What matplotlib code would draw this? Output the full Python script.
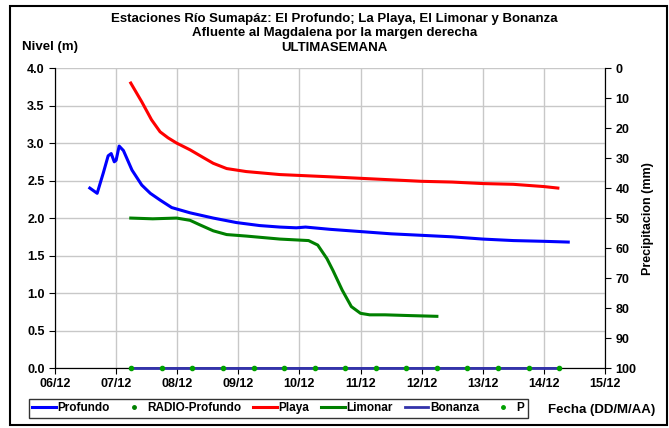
import matplotlib
matplotlib.use("Agg")
import matplotlib.pyplot as plt
from matplotlib.patches import Rectangle

plt.rcParams['font.family'] = ['Liberation Sans', 'DejaVu Sans']
plt.rcParams['font.weight'] = 'bold'

# days since 06/12
dias = ["06/12", "07/12", "08/12", "09/12", "10/12", "11/12", "12/12", "13/12", "14/12", "15/12"]

prof_x = [0.57, 0.69, 0.79, 0.87, 0.92, 0.97, 1.00, 1.05, 1.12, 1.26, 1.42, 1.56, 1.72, 1.91, 2.21, 2.59, 2.97,
          3.35, 3.68, 3.95, 4.10, 4.50, 5.00, 5.50, 6.00, 6.50, 7.00, 7.50, 8.00, 8.40]
prof_y = [2.40, 2.33, 2.60, 2.83, 2.86, 2.75, 2.77, 2.96, 2.90, 2.64, 2.44, 2.33, 2.24, 2.14, 2.07, 2.00, 1.94,
          1.90, 1.88, 1.87, 1.88, 1.85, 1.82, 1.79, 1.77, 1.75, 1.72, 1.70, 1.69, 1.68]

playa_x = [1.24, 1.42, 1.58, 1.72, 1.85, 1.99, 2.21, 2.42, 2.59, 2.81, 3.13, 3.68, 4.50, 5.00, 5.50, 6.00,
           6.50, 7.00, 7.50, 8.00, 8.23]
playa_y = [3.80, 3.55, 3.31, 3.15, 3.07, 3.00, 2.91, 2.81, 2.73, 2.66, 2.62, 2.58, 2.55, 2.53, 2.51, 2.49,
           2.48, 2.46, 2.45, 2.42, 2.40]

limon_x = [1.24, 1.60, 1.99, 2.21, 2.37, 2.59, 2.81, 3.13, 3.68, 4.15, 4.30, 4.45, 4.55, 4.70, 4.85,
           5.00, 5.15, 5.40, 5.80, 6.25]
limon_y = [2.00, 1.99, 2.00, 1.97, 1.91, 1.83, 1.78, 1.76, 1.72, 1.70, 1.64, 1.46, 1.30, 1.04, 0.82,
           0.73, 0.71, 0.71, 0.70, 0.69]

bonanza_x = [1.25, 8.25]
bonanza_y = [0.0, 0.0]

p_x = [1.25, 1.75, 2.25, 2.75, 3.25, 3.75, 4.25, 4.75, 5.25, 5.75, 6.25, 6.75, 7.25, 7.75, 8.25]
p_y = [0.0] * len(p_x)

fig = plt.figure(figsize=(6.69, 4.28), dpi=100)
ax = fig.add_axes([0.0822, 0.140, 0.822, 0.701])
ax2 = ax.twinx()

ax.plot(prof_x, prof_y, color='#0000ff', lw=2.2, label='Profundo')
ax.plot([], [], ls='none', marker='o', color='#008000', ms=2.5, label='RADIO-Profundo')
ax.plot(playa_x, playa_y, color='#ff0000', lw=2.2, label='Playa')
ax.plot(limon_x, limon_y, color='#008000', lw=2.2, label='Limonar')
ax.plot(bonanza_x, bonanza_y, color='#3333aa', lw=2.0, label='Bonanza')
ax.plot(p_x, p_y, ls='none', marker='o', color='#00a000', ms=2.5, label='P')

# draw the zero-level series above the spines
ax2.plot(bonanza_x, [100, 100], color='#3333aa', lw=2.0, clip_on=False, zorder=5)
ax2.plot(p_x, [100] * len(p_x), ls='none', marker='o', color='#00a000', ms=3, clip_on=False, zorder=6)

ax.set_xlim(0, 9)
ax.set_ylim(0, 4)
ax.set_xticks(range(10))
ax.set_xticklabels(dias)
ax.set_yticks([0, 0.5, 1, 1.5, 2, 2.5, 3, 3.5, 4])
ax.set_yticklabels(['%.1f' % v for v in [0, 0.5, 1, 1.5, 2, 2.5, 3, 3.5, 4]])
ax.grid(True, color='#c8c8c8', lw=1)
ax.set_axisbelow(True)
ax.tick_params(labelsize=9, length=4, direction='out')
for s in ['left', 'bottom', 'right']:
    ax.spines[s].set_color('black')
ax.spines['top'].set_visible(False)

ax2.set_ylim(100, 0)
ax2.set_yticks(range(0, 101, 10))
ax2.tick_params(labelsize=9, length=4)
ax2.spines['top'].set_visible(False)
ax2.set_ylabel('Precipitacion (mm)', fontsize=9, fontweight='bold', labelpad=4)

fig.text(0.5, 0.955, 'Estaciones Río Sumapáz: El Profundo; La Playa, El Limonar y Bonanza',
         ha='center', va='center', fontsize=9.5)
fig.text(0.5, 0.922, 'Afluente al Magdalena por la margen derecha', ha='center', va='center', fontsize=9.5)
fig.text(0.5, 0.889, 'ULTIMASEMANA', ha='center', va='center', fontsize=9.5)
fig.text(0.075, 0.89, 'Nivel (m)', ha='center', va='center', fontsize=9.5)
fig.text(0.899, 0.042, 'Fecha (DD/M/AA)', ha='center', va='center', fontsize=9.5)

h, l = ax.get_legend_handles_labels()
leg = fig.legend(h, l, loc='center', bbox_to_anchor=(0.416, 0.046), ncol=6, fontsize=8.5,
                 frameon=True, fancybox=False, edgecolor='black', handlelength=2.0,
                 handletextpad=0.15, columnspacing=1.0, borderpad=0.3)
leg.get_frame().set_linewidth(1.0)

fig.patches.append(Rectangle((0.015, 0.008), 0.982, 0.978, transform=fig.transFigure,
                             fill=False, edgecolor='black', lw=1.5))

fig.savefig('out.png', dpi=100)
